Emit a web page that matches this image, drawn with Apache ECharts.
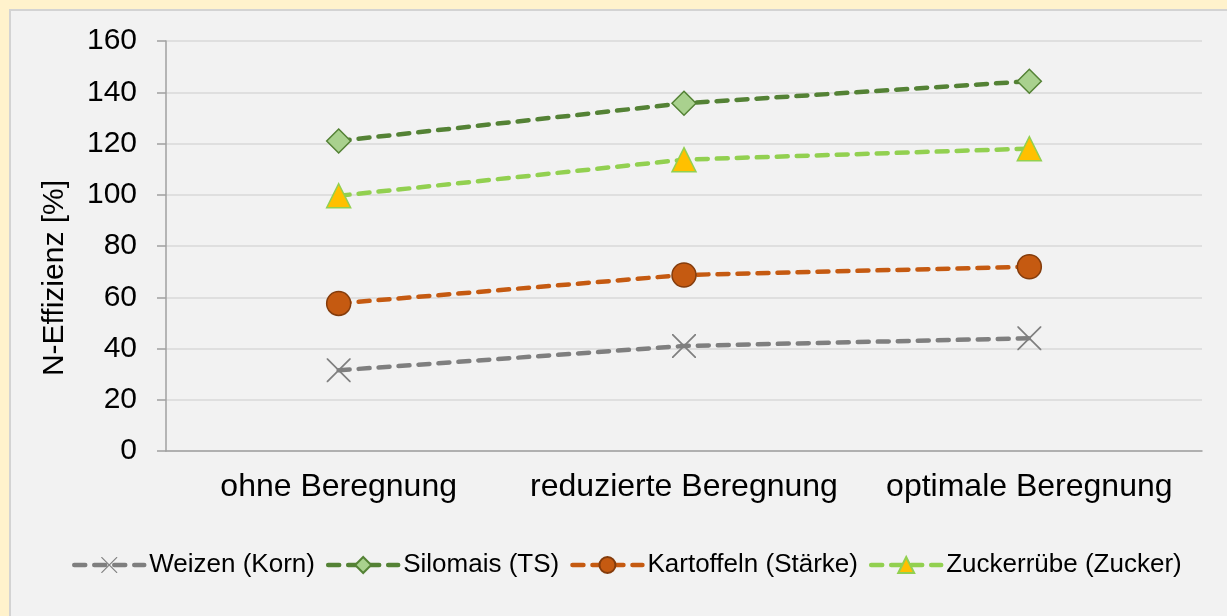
<!DOCTYPE html>
<html>
<head>
<meta charset="utf-8">
<script src="https://cdn.jsdelivr.net/npm/echarts@6/dist/echarts.min.js"></script>
<style>
    html, body { margin: 0; padding: 0; background: #FFF2CC; }
    #frame {
        position: absolute; left: 9px; top: 9px; right: 0; bottom: 0;
        background: #F2F2F2;
        border-left: 2px solid #D3D3D3;
        border-top: 2px solid #D3D3D3;
    }
    #chart { position: absolute; left: 0; top: 0; width: 1227px; height: 616px; }
</style>
</head>
<body>
<div id="frame"></div>
<div id="chart"></div>
<script>
    // Kategorien und Werte
    var categories = ['ohne Beregnung', 'reduzierte Beregnung', 'optimale Beregnung'];
    var weizen = [31.5, 41, 44];
    var silomais = [121, 135.7, 144.3];
    var kartoffeln = [57.6, 68.7, 71.9];
    var zuckerruebe = [99.6, 113.7, 118];
    var yTicks = { min: 0, max: 160, interval: 20 };

    var font = 'Liberation Sans, Arial, sans-serif';
    var xMark = 'path://M0,0 L1,0 L10,9 L19,0 L20,0 L20,1 L11,10 L20,19 L20,20 L19,20 L10,11 L1,20 L0,20 L0,19 L9,10 L0,1 Z';
    var dash = [11, 9];

    function lineSeries(name, data, color, symbol, fill, border) {
        return {
            name: name,
            type: 'line',
            data: data,
            symbol: symbol,
            symbolSize: 24,
            lineStyle: { color: color, width: 4.5, type: dash, cap: 'round' },
            itemStyle: { color: fill, borderColor: border, borderWidth: border ? 1.5 : 0 }
        };
    }

    var chart = echarts.init(document.getElementById('chart'));
    chart.setOption({
        animation: false,
        textStyle: { fontFamily: font },
        grid: { left: 166, right: 25, top: 41, bottom: 165 },
        legend: {
            left: 67,
            top: 547,
            itemWidth: 70,
            itemHeight: 20,
            itemGap: 11,
            lineStyle: { width: 4.5, type: dash, cap: 'round' },
            textStyle: { fontSize: 26, color: '#000', fontFamily: font },
            data: ['Weizen (Korn)', 'Silomais (TS)', 'Kartoffeln (Stärke)', 'Zuckerrübe (Zucker)']
        },
        xAxis: {
            type: 'category',
            data: categories,
            axisLine: { lineStyle: { color: '#A0A0A0', width: 1.5 } },
            axisTick: { length: 9, interval: 0, lineStyle: { color: '#A0A0A0', width: 1.5 } },
            axisLabel: { fontSize: 32, color: '#000', margin: 20, interval: 0, fontFamily: font }
        },
        yAxis: {
            type: 'value',
            min: yTicks.min,
            max: yTicks.max,
            interval: yTicks.interval,
            name: 'N-Effizienz [%]',
            nameLocation: 'middle',
            nameGap: 96,
            nameTextStyle: { fontSize: 30, color: '#000', fontFamily: font, padding: [0, 64, 0, 0] },
            axisLine: { show: true, lineStyle: { color: '#A0A0A0', width: 1.5 } },
            axisTick: { show: true, length: 9, lineStyle: { color: '#A0A0A0', width: 1.5 } },
            axisLabel: { fontSize: 30, color: '#000', margin: 29, fontFamily: font },
            splitLine: { lineStyle: { color: '#D9D9D9', width: 1.5 } }
        },
        series: [
            lineSeries('Weizen (Korn)', weizen, '#7F7F7F', xMark, '#7F7F7F', null),
            lineSeries('Silomais (TS)', silomais, '#548235', 'diamond', '#A9D18E', '#548235'),
            lineSeries('Kartoffeln (Stärke)', kartoffeln, '#C55A11', 'circle', '#C55A11', '#843C0C'),
            lineSeries('Zuckerrübe (Zucker)', zuckerruebe, '#92D050', 'triangle', '#FFC000', '#92D050')
        ]
    });
</script>
</body>
</html>
